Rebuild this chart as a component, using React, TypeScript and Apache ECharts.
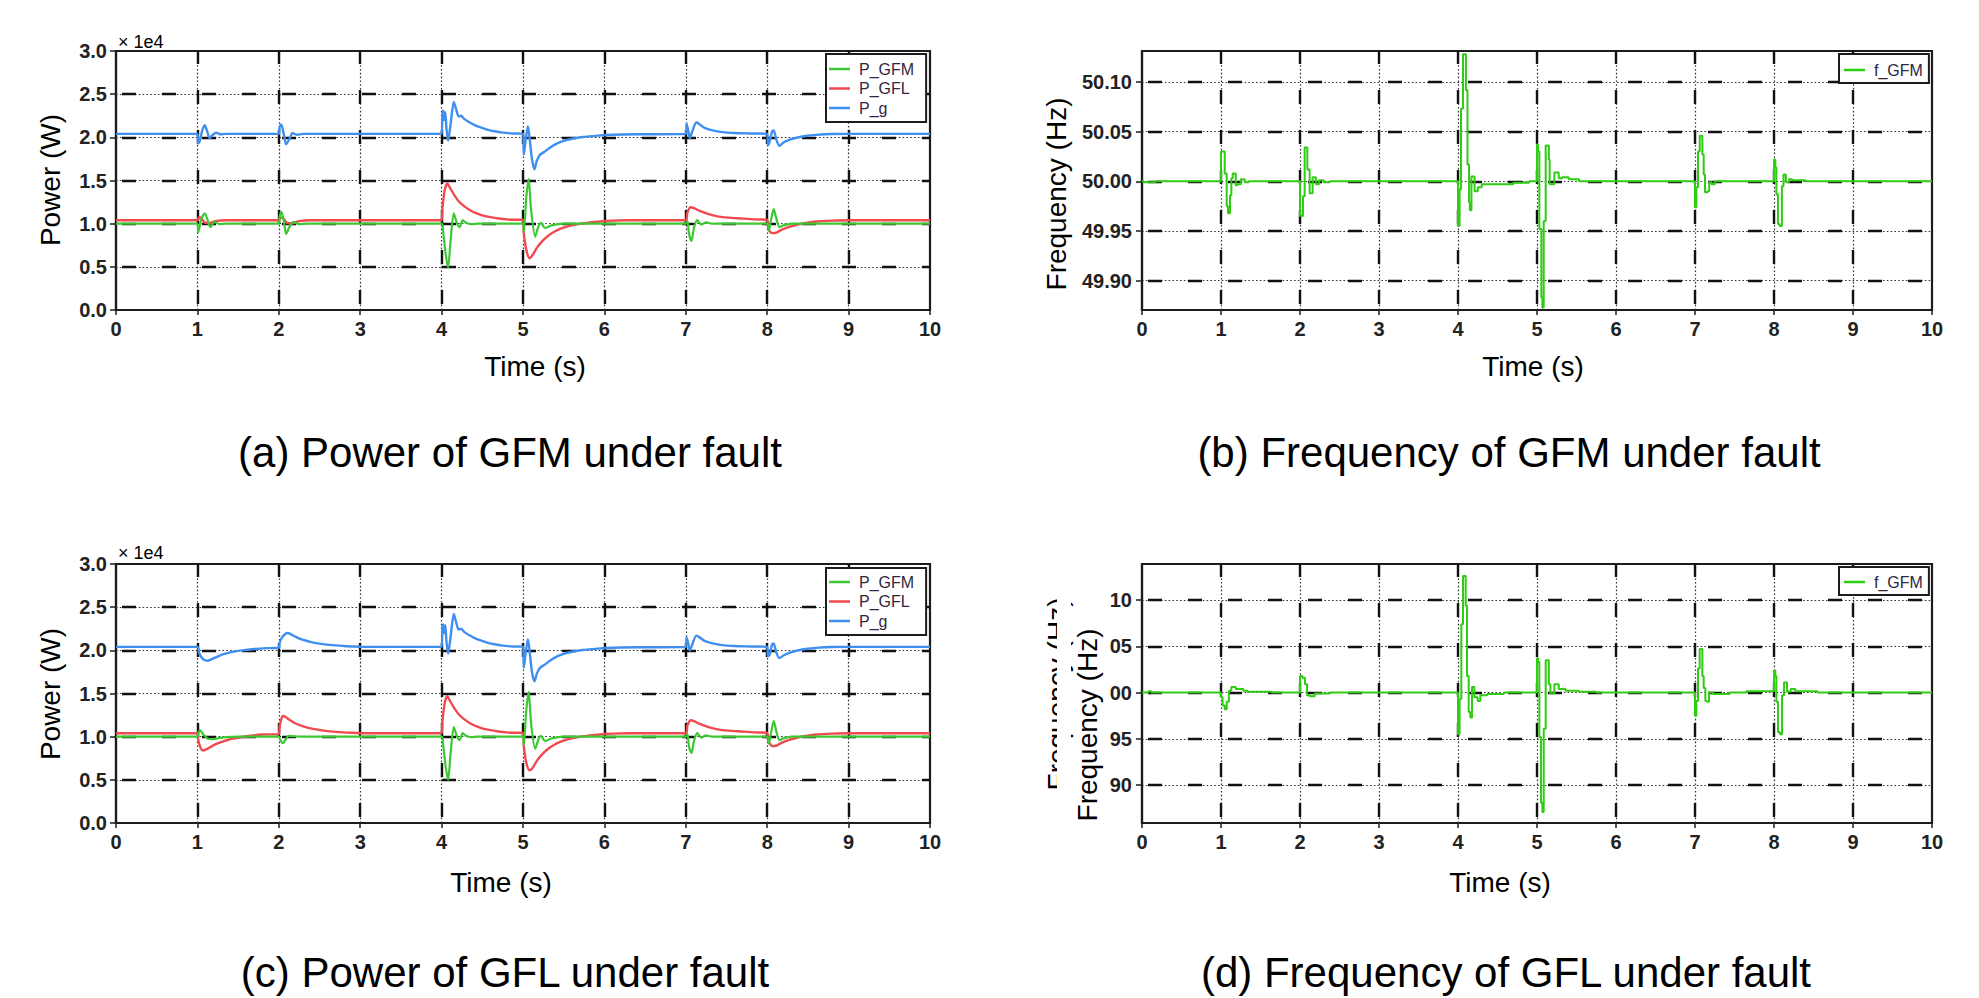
import React, { useEffect, useRef } from "react";
import * as echarts from "echarts";

// ---------- tick values ----------
const timeTicks = [0, 1, 2, 3, 4, 5, 6, 7, 8, 9, 10];
const timeGrid = [1, 2, 3, 4, 5, 6, 7, 8, 9];
const powerGrid = [5000, 10000, 15000, 20000, 25000];
const freqTicks = [49.9, 49.95, 50.0, 50.05, 50.1];

// ---------- (a) Power of GFM under fault ----------
const pGFM_a: number[][] = [
  [0, 10000], [1.0, 10000], [1.01, 9000], [1.05, 10600], [1.09, 11200], [1.13, 10300], [1.16, 9600], [1.21, 10200], [1.27, 9950], [1.35, 10000],
  [2.0, 10000], [2.01, 10800], [2.03, 11400], [2.06, 10400], [2.09, 8800], [2.13, 9600], [2.18, 10200], [2.25, 9950], [2.35, 10000],
  [4.0, 10000], [4.02, 9000], [4.05, 6500], [4.08, 4900], [4.11, 8000], [4.15, 11200], [4.19, 10000], [4.22, 9600], [4.26, 10400], [4.3, 10100], [4.36, 9950], [4.45, 10000],
  [5.0, 10000], [5.01, 9000], [5.04, 13000], [5.07, 15200], [5.1, 11500], [5.15, 8500], [5.19, 9700], [5.22, 10100], [5.27, 9500], [5.35, 9800], [5.5, 10000],
  [7.0, 10000], [7.02, 10300], [7.04, 8800], [7.07, 8000], [7.1, 9500], [7.14, 10400], [7.19, 9900], [7.25, 10150], [7.32, 10000],
  [8.0, 10000], [8.02, 9200], [8.05, 10600], [8.08, 11700], [8.11, 10700], [8.15, 9600], [8.2, 9800], [8.3, 10000], [10, 10000],
];
const pGFL_a: number[][] = [
  [0, 10400], [1.0, 10400], [1.02, 10750], [1.05, 10600], [1.09, 10150], [1.14, 10050], [1.22, 10300], [1.35, 10400],
  [2.0, 10400], [2.02, 10700], [2.05, 10650], [2.1, 10100], [2.16, 10050], [2.25, 10300], [2.4, 10400],
  [4.0, 10400], [4.01, 11800], [4.04, 14000], [4.07, 14650], [4.1, 14200], [4.15, 13400], [4.21, 12600], [4.28, 12000], [4.36, 11500], [4.44, 11150], [4.52, 10900], [4.6, 10750], [4.7, 10600], [4.8, 10500], [4.9, 10450], [5.0, 10450],
  [5.01, 8900], [5.04, 7000], [5.08, 6000], [5.12, 6400], [5.17, 7200], [5.24, 8000], [5.31, 8600], [5.39, 9100], [5.47, 9450], [5.57, 9750], [5.68, 9950], [5.8, 10100], [5.94, 10250], [6.1, 10350], [6.3, 10400],
  [7.0, 10400], [7.02, 11300], [7.06, 11900], [7.1, 11800], [7.18, 11450], [7.28, 11100], [7.39, 10850], [7.52, 10700], [7.68, 10600], [7.85, 10500], [8.0, 10450],
  [8.01, 9600], [8.04, 9000], [8.07, 8900], [8.12, 9000], [8.18, 9300], [8.26, 9600], [8.35, 9850], [8.45, 10050], [8.6, 10250], [8.8, 10350], [9.0, 10400], [10, 10400],
];
const pG_a: number[][] = [
  [0, 20400], [1.0, 20400], [1.01, 19300], [1.03, 19600], [1.06, 20800], [1.09, 21400], [1.12, 20700], [1.15, 19900], [1.19, 20300], [1.23, 20550], [1.28, 20350], [1.35, 20400],
  [2.0, 20400], [2.01, 21200], [2.03, 21500], [2.06, 20400], [2.09, 19200], [2.13, 19800], [2.17, 20500], [2.22, 20300], [2.3, 20400],
  [4.0, 20400], [4.01, 22600], [4.02, 23100], [4.03, 22000], [4.045, 22900], [4.06, 21000], [4.08, 19600], [4.11, 21500], [4.15, 24100], [4.18, 23200], [4.21, 22400], [4.24, 22500], [4.27, 22200], [4.33, 21800], [4.4, 21450], [4.48, 21150], [4.56, 20900], [4.65, 20700], [4.75, 20550], [4.88, 20450], [5.0, 20400],
  [5.01, 18000], [5.03, 19500], [5.06, 21300], [5.08, 20000], [5.11, 17500], [5.14, 16300], [5.17, 17300], [5.21, 18000], [5.26, 18300], [5.33, 18800], [5.42, 19300], [5.52, 19650], [5.63, 19900], [5.76, 20050], [5.92, 20200], [6.1, 20300], [6.4, 20350],
  [7.0, 20400], [7.01, 21600], [7.03, 20800], [7.05, 19900], [7.08, 20700], [7.13, 21750], [7.17, 21500], [7.23, 21100], [7.33, 20800], [7.45, 20600], [7.6, 20500], [7.8, 20450], [8.0, 20400],
  [8.01, 19100], [8.03, 19500], [8.06, 20700], [8.08, 20800], [8.11, 19800], [8.15, 19000], [8.2, 19400], [8.27, 19700], [8.36, 19950], [8.47, 20150], [8.6, 20280], [8.8, 20380], [9.0, 20400], [10, 20400],
];

// ---------- (c) Power of GFL under fault ----------
const pGFM_c: number[][] = [
  [0, 10000], [1.0, 10000], [1.015, 10500], [1.03, 10750], [1.07, 10300], [1.12, 9800], [1.17, 9700], [1.25, 9800], [1.35, 9950], [1.5, 10000],
  [2.0, 10000], [2.02, 9600], [2.05, 9250], [2.08, 9600], [2.12, 10100], [2.18, 10050], [2.3, 10000],
  [4.0, 10000], [4.02, 9000], [4.05, 6500], [4.08, 5000], [4.11, 8000], [4.15, 11100], [4.19, 10000], [4.22, 9600], [4.26, 10400], [4.3, 10100], [4.36, 9950], [4.45, 10000],
  [5.0, 10000], [5.01, 9000], [5.04, 13000], [5.07, 15200], [5.1, 11500], [5.15, 8600], [5.19, 9700], [5.22, 10100], [5.27, 9500], [5.35, 9800], [5.5, 10000],
  [7.0, 10000], [7.02, 10300], [7.04, 8800], [7.07, 8100], [7.1, 9500], [7.14, 10400], [7.19, 9900], [7.25, 10150], [7.32, 10000],
  [8.0, 10000], [8.02, 9200], [8.05, 10600], [8.08, 11800], [8.11, 10700], [8.15, 9600], [8.2, 9800], [8.3, 10000], [10, 10000],
];
const pGFL_c: number[][] = [
  [0, 10400], [1.0, 10400], [1.01, 9600], [1.04, 8700], [1.07, 8400], [1.1, 8500], [1.15, 8750], [1.22, 9100], [1.3, 9400], [1.4, 9700], [1.52, 9900], [1.65, 10100], [1.8, 10250], [2.0, 10300],
  [2.01, 11200], [2.03, 12000], [2.05, 12400], [2.08, 12300], [2.13, 11950], [2.2, 11550], [2.3, 11200], [2.42, 10900], [2.55, 10700], [2.7, 10550], [2.9, 10450], [3.1, 10400],
  [4.0, 10400], [4.01, 11800], [4.04, 14000], [4.07, 14700], [4.1, 14200], [4.15, 13400], [4.21, 12600], [4.28, 12000], [4.36, 11500], [4.44, 11150], [4.52, 10900], [4.6, 10750], [4.7, 10600], [4.8, 10500], [4.9, 10450], [5.0, 10450],
  [5.01, 8900], [5.04, 7000], [5.08, 6100], [5.12, 6400], [5.17, 7200], [5.24, 8000], [5.31, 8600], [5.39, 9100], [5.47, 9450], [5.57, 9750], [5.68, 9950], [5.8, 10100], [5.94, 10250], [6.1, 10350], [6.3, 10400],
  [7.0, 10400], [7.02, 11300], [7.06, 11900], [7.1, 11800], [7.18, 11450], [7.28, 11100], [7.39, 10850], [7.52, 10700], [7.68, 10600], [7.85, 10500], [8.0, 10450],
  [8.01, 9600], [8.04, 9100], [8.07, 8900], [8.12, 9000], [8.18, 9300], [8.26, 9600], [8.35, 9850], [8.45, 10050], [8.6, 10250], [8.8, 10350], [9.0, 10400], [10, 10400],
];
const pG_c: number[][] = [
  [0, 20400], [1.0, 20400], [1.02, 19700], [1.05, 19200], [1.08, 18900], [1.12, 18800], [1.17, 18950], [1.24, 19250], [1.32, 19550], [1.42, 19800], [1.55, 20000], [1.7, 20150], [1.85, 20250], [2.0, 20300],
  [2.01, 20900], [2.04, 21500], [2.08, 21900], [2.11, 22000], [2.15, 21850], [2.22, 21500], [2.3, 21200], [2.4, 20950], [2.52, 20750], [2.66, 20600], [2.83, 20480], [3.0, 20420], [3.3, 20400],
  [4.0, 20400], [4.01, 22600], [4.02, 23000], [4.03, 22000], [4.045, 22900], [4.06, 21000], [4.08, 19600], [4.11, 21500], [4.15, 24200], [4.18, 23200], [4.21, 22400], [4.24, 22500], [4.27, 22200], [4.33, 21800], [4.4, 21450], [4.48, 21150], [4.56, 20900], [4.65, 20700], [4.75, 20550], [4.88, 20450], [5.0, 20400],
  [5.01, 18000], [5.03, 19500], [5.06, 21300], [5.08, 20000], [5.11, 17500], [5.14, 16400], [5.17, 17300], [5.21, 18000], [5.26, 18300], [5.33, 18800], [5.42, 19300], [5.52, 19650], [5.63, 19900], [5.76, 20050], [5.92, 20200], [6.1, 20300], [6.4, 20350],
  [7.0, 20400], [7.01, 21500], [7.03, 20800], [7.05, 20000], [7.08, 20700], [7.13, 21700], [7.17, 21500], [7.23, 21100], [7.33, 20800], [7.45, 20600], [7.6, 20500], [7.8, 20450], [8.0, 20400],
  [8.01, 19300], [8.03, 19500], [8.06, 20700], [8.08, 20800], [8.11, 19800], [8.15, 19100], [8.2, 19400], [8.27, 19700], [8.36, 19950], [8.47, 20150], [8.6, 20280], [8.8, 20380], [9.0, 20400], [10, 20400],
];

// ---------- (b) Frequency of GFM under fault (stepped samples) ----------
const fGFM_b: number[][] = [
  [0, 50.0], [0.02, 49.9992], [0.17, 50.0],
  [1.0, 50.03], [1.047, 50.008], [1.072, 49.975], [1.089, 49.968], [1.114, 49.986], [1.131, 50.003], [1.148, 50.008], [1.186, 49.996], [1.21, 49.997], [1.25, 50.002], [1.3, 49.999], [1.35, 50.0],
  [2.0, 49.965], [2.038, 49.985], [2.059, 50.034], [2.093, 50.012], [2.122, 49.988], [2.16, 50.004], [2.2, 49.997], [2.24, 50.001], [2.3, 49.999], [2.38, 50.0],
  [4.0, 49.955], [4.02, 49.992], [4.038, 50.073], [4.063, 50.128], [4.1, 50.092], [4.12, 50.017], [4.14, 49.979], [4.15, 49.971], [4.17, 50.005], [4.21, 49.99], [4.25, 49.994], [4.3, 49.997], [4.7, 49.9985], [4.9, 50.0],
  [5.0, 50.037], [5.013, 50.03], [5.03, 49.952], [5.055, 49.883], [5.068, 49.873], [5.085, 49.96], [5.11, 50.036], [5.15, 50.022], [5.16, 49.997], [5.22, 50.009], [5.275, 50.003], [5.32, 50.004], [5.4, 50.002], [5.53, 50.0],
  [7.0, 49.974], [7.017, 49.994], [7.038, 50.03], [7.06, 50.046], [7.093, 50.027], [7.11, 50.007], [7.127, 49.989], [7.16, 49.99], [7.18, 49.999], [7.21, 49.997], [7.25, 50.0],
  [8.0, 50.022], [8.017, 50.014], [8.03, 49.987], [8.05, 49.957], [8.07, 49.955], [8.1, 49.995], [8.12, 50.007], [8.15, 49.999], [8.19, 50.002], [8.23, 50.001], [8.4, 50.0], [10, 50.0],
];

// ---------- (d) Frequency of GFL under fault (stepped samples) ----------
const fGFM_d: number[][] = [
  [0, 50.0], [0.08, 50.0015], [0.12, 50.0],
  [1.0, 49.995], [1.02, 49.986], [1.047, 49.982], [1.072, 49.99], [1.1, 50.002], [1.131, 50.006], [1.186, 50.004], [1.283, 50.002], [1.334, 50.001], [1.64, 50.0],
  [2.0, 50.018], [2.03, 50.016], [2.063, 50.009], [2.089, 49.997], [2.122, 49.996], [2.186, 49.999], [2.38, 50.0],
  [4.0, 49.955], [4.02, 49.993], [4.042, 50.074], [4.063, 50.126], [4.097, 50.094], [4.114, 50.018], [4.135, 49.979], [4.156, 49.973], [4.177, 50.006], [4.207, 49.995], [4.249, 49.991], [4.283, 49.997], [4.37, 49.9985], [4.58, 50.0],
  [5.0, 50.037], [5.013, 50.033], [5.03, 49.952], [5.05, 49.881], [5.068, 49.871], [5.085, 49.961], [5.11, 50.035], [5.15, 50.009], [5.17, 49.999], [5.22, 50.009], [5.275, 50.004], [5.36, 50.002], [5.53, 50.001], [5.75, 50.0],
  [7.0, 49.975], [7.017, 49.991], [7.038, 50.026], [7.059, 50.047], [7.093, 50.018], [7.11, 50.005], [7.131, 49.991], [7.152, 49.99], [7.178, 50.0], [7.229, 49.9985], [7.44, 50.0], [7.65, 50.0015],
  [8.0, 50.024], [8.017, 50.018], [8.03, 49.99], [8.051, 49.957], [8.076, 49.955], [8.102, 49.997], [8.127, 50.011], [8.165, 50.001], [8.21, 50.004], [8.27, 50.0015], [8.55, 50.0], [10, 50.0],
];

const FONT = '"Liberation Sans", Arial, Helvetica, sans-serif';
const INK = "#1c1c1c";
const C_GFM = "#3cc832";
const C_GFL = "#f04a50";
const C_G = "#3f8ff0";
const C_F = "#2ecc12";

function gridLineSeries(idx: number, xs: number[], ys: number[], anchorY: number) {
  const data = [
    ...xs.map((v) => ({ xAxis: v })),
    ...ys.map((v) => ({ yAxis: v })),
  ];
  const base = {
    type: "line",
    xAxisIndex: idx,
    yAxisIndex: idx,
    data: [[5, anchorY]],
    symbol: "none",
    lineStyle: { opacity: 0 },
    silent: true,
    z: 1,
  };
  return [
    {
      ...base,
      name: "_dot" + idx,
      markLine: {
        z: 1,
        silent: true,
        symbol: ["none", "none"],
        label: { show: false },
        animation: false,
        lineStyle: { color: "#333", width: 1.2, type: [1.6, 2.2] },
        data,
      },
    },
    {
      ...base,
      name: "_dash" + idx,
      markLine: {
        z: 1,
        silent: true,
        symbol: ["none", "none"],
        label: { show: false },
        animation: false,
        lineStyle: { color: "#111", width: 2.4, type: [14, 26], dashOffset: -6 },
        data,
      },
    },
  ];
}

function xAxisCfg(idx: number) {
  return {
    type: "value",
    gridIndex: idx,
    min: timeTicks[0],
    max: timeTicks[timeTicks.length - 1],
    interval: 1,
    axisLine: { show: true, lineStyle: { color: INK, width: 2.2 } },
    axisTick: { show: true, length: 5, lineStyle: { color: INK, width: 1.5 } },
    axisLabel: { fontSize: 20, fontFamily: FONT, fontWeight: "bold", color: "#222", margin: 9 },
    splitLine: { show: false },
  };
}

function powerYAxis(idx: number) {
  return {
    type: "value",
    gridIndex: idx,
    min: 0,
    max: 30000,
    interval: 5000,
    axisLine: { show: true, lineStyle: { color: INK, width: 2.2 } },
    axisTick: { show: true, length: 6, lineStyle: { color: INK, width: 1.5 } },
    axisLabel: {
      fontSize: 20, fontFamily: FONT, fontWeight: "bold", color: "#222", margin: 9,
      formatter: (v: number) => (v / 1e4).toFixed(1),
    },
    splitLine: { show: false },
  };
}

function freqYAxis(idx: number, min: number, max: number, short: boolean) {
  return {
    type: "value",
    gridIndex: idx,
    min,
    max,
    axisLine: { show: true, lineStyle: { color: INK, width: 2.2 } },
    axisTick: { show: true, length: 6, customValues: freqTicks, lineStyle: { color: INK, width: 1.5 } },
    axisLabel: {
      fontSize: 20, fontFamily: FONT, fontWeight: "bold", color: "#222", margin: 10,
      customValues: freqTicks,
      formatter: (v: number) => (short ? v.toFixed(2).slice(-2) : v.toFixed(2)),
    },
    splitLine: { show: false },
  };
}

function powerSeries(idx: number, gfm: number[][], gfl: number[][], g: number[][]) {
  const common = {
    type: "line",
    xAxisIndex: idx,
    yAxisIndex: idx,
    symbol: "none",
    showSymbol: false,
    smooth: 0.25,
    z: 3,
  };
  return [
    { ...common, name: "P_g", data: g, color: C_G, lineStyle: { color: C_G, width: 2.4 } },
    { ...common, name: "P_GFL", data: gfl, color: C_GFL, lineStyle: { color: C_GFL, width: 2.4 } },
    { ...common, name: "P_GFM", data: gfm, color: C_GFM, lineStyle: { color: C_GFM, width: 2.2 } },
  ];
}

function freqSeries(idx: number, f: number[][]) {
  return {
    type: "line",
    name: "f_GFM",
    xAxisIndex: idx,
    yAxisIndex: idx,
    symbol: "none",
    showSymbol: false,
    step: "end",
    data: f,
    color: C_F,
    lineStyle: { color: C_F, width: 2 },
    z: 3,
  };
}

function legendCfg(left: number, top: number, names: string[], padding: number[]) {
  return {
    left,
    top,
    orient: "vertical",
    data: names,
    icon: "rect",
    itemWidth: 21,
    itemHeight: 2.5,
    itemGap: 3.5,
    padding,
    backgroundColor: "#fff",
    borderColor: "#1c1c1c",
    borderWidth: 2,
    borderRadius: 0,
    selectedMode: false,
    textStyle: { fontSize: 16, fontFamily: FONT, color: "#2f2640", lineHeight: 16, padding: [0, 0, 0, 4] },
  };
}

function txt(text: string, x: number, y: number, size: number, rotate = false, z = 10, align = "center") {
  return {
    type: "text",
    x,
    y,
    rotation: rotate ? Math.PI / 2 : 0,
    z,
    silent: true,
    style: {
      text,
      font: `${size}px ${FONT}`,
      fill: "#000",
      align,
      verticalAlign: "middle",
      textAlign: align,
      textVerticalAlign: "middle",
    },
  };
}

export default function App() {
  const ref = useRef<HTMLDivElement>(null);
  useEffect(() => {
    if (!ref.current) return;
    const chart = echarts.init(ref.current, undefined, { renderer: "svg" });
    const option: any = {
      animation: false,
      backgroundColor: "#fff",
      grid: [
        { left: 116, top: 51, width: 814, height: 259, show: true, borderColor: INK, borderWidth: 2.2, backgroundColor: "transparent" },
        { left: 1142, top: 51, width: 790, height: 259, show: true, borderColor: INK, borderWidth: 2.2, backgroundColor: "transparent" },
        { left: 116, top: 564, width: 814, height: 259, show: true, borderColor: INK, borderWidth: 2.2, backgroundColor: "transparent" },
        { left: 1142, top: 564, width: 790, height: 259, show: true, borderColor: INK, borderWidth: 2.2, backgroundColor: "transparent" },
      ],
      xAxis: [xAxisCfg(0), xAxisCfg(1), xAxisCfg(2), xAxisCfg(3)],
      yAxis: [
        powerYAxis(0),
        freqYAxis(1, 49.8705, 50.1312, false),
        powerYAxis(2),
        freqYAxis(3, 49.859, 50.139, true),
      ],
      legend: [
        legendCfg(826, 54, ["P_GFM", "P_GFL", "P_g"], [7, 12, 6, 3]),
        legendCfg(1839, 54, ["f_GFM"], [8, 6, 5, 5]),
        legendCfg(826, 568, ["P_GFM", "P_GFL", "P_g"], [6, 12, 6, 3]),
        legendCfg(1839, 567, ["f_GFM"], [7, 6, 5, 5]),
      ],
      series: [
        ...gridLineSeries(0, timeGrid, powerGrid, 15000),
        ...gridLineSeries(1, timeGrid, freqTicks, 50),
        ...gridLineSeries(2, timeGrid, powerGrid, 15000),
        ...gridLineSeries(3, timeGrid, freqTicks, 50),
        ...powerSeries(0, pGFM_a, pGFL_a, pG_a),
        freqSeries(1, fGFM_b),
        ...powerSeries(2, pGFM_c, pGFL_c, pG_c),
        freqSeries(3, fGFM_d),
      ],
      graphic: {
        elements: [
          txt("× 1e4", 118, 42, 18, false, 10, "left"),
          txt("× 1e4", 118, 553, 18, false, 10, "left"),
          txt("Power (W)", 50, 180, 28, true),
          txt("Power (W)", 50, 694, 28, true),
          txt("Frequency (Hz)", 1056, 194, 28, true),
          txt("Frequency (Hz)", 1057, 694, 28, true, 10),
          { type: "rect", z: 11, silent: true, shape: { x: 1057, y: 585, width: 14, height: 225 }, style: { fill: "#fff" } },
          txt("Frequency (Hz)", 1087, 725, 28, true, 12),
          txt("Time (s)", 535, 366, 28),
          txt("Time (s)", 1533, 366, 28),
          txt("Time (s)", 501, 882, 28),
          txt("Time (s)", 1500, 882, 28),
          txt("(a) Power of GFM under fault", 510, 452, 42),
          txt("(b) Frequency of GFM under fault", 1509, 452, 42),
          txt("(c) Power of GFL under fault", 505, 972, 42),
          txt("(d) Frequency of GFL under fault", 1506, 972, 42),
        ],
      },
    };
    chart.setOption(option);
    return () => chart.dispose();
  }, []);
  return (
    <div
      ref={ref}
      style={{ position: "fixed", left: 0, top: 0, width: 1979, height: 998, background: "#fff" }}
    />
  );
}
